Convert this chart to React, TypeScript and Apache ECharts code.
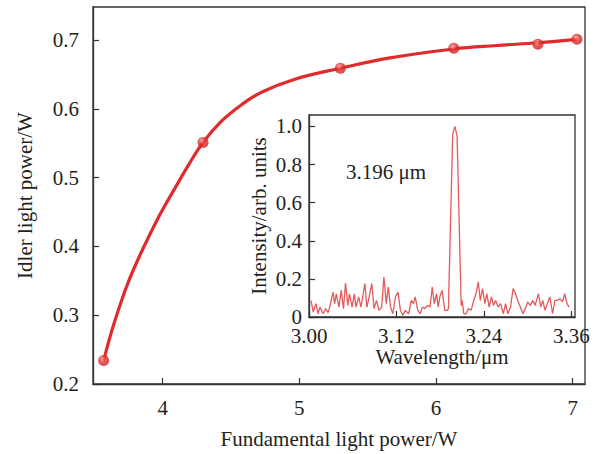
import React, { useEffect, useRef } from "react";
import * as echarts from "echarts";

// Main chart: measured points (fundamental power W, idler power W)
const pointX = [3.568, 4.295, 5.3, 6.13, 6.745, 7.031];
const pointY = [0.234, 0.551, 0.659, 0.688, 0.694, 0.701];

// Fitted curve
const fitX = [3.568, 3.624, 3.685, 3.746, 3.819, 3.905, 3.99, 4.088, 4.185, 4.295, 4.43, 4.577, 4.723, 4.967, 5.3, 5.663, 6.13, 6.445, 6.745, 7.031];
const fitY = [0.234, 0.275, 0.313, 0.347, 0.381, 0.417, 0.45, 0.484, 0.517, 0.551, 0.582, 0.606, 0.624, 0.643, 0.659, 0.674, 0.687, 0.692, 0.696, 0.701];

// Inset spectrum (wavelength µm, intensity a.u.)
const wavelength = [
  3.0027, 3.0059, 3.0095, 3.0126, 3.0149, 3.0194, 3.023, 3.0262, 3.0284, 3.0329,
  3.0352, 3.0374, 3.041, 3.0442, 3.0473, 3.0501, 3.0532, 3.0555, 3.0591, 3.0622,
  3.0645, 3.0681, 3.0713, 3.0767, 3.0794, 3.0825, 3.0862, 3.0893, 3.0925, 3.0961,
  3.0997, 3.1028, 3.106, 3.1087, 3.1119, 3.115, 3.1186, 3.1222, 3.1254, 3.1286,
  3.1322, 3.1367, 3.1403, 3.1434, 3.1457, 3.1493, 3.1525, 3.1556, 3.1592, 3.1628,
  3.166, 3.1691, 3.1719, 3.175, 3.1773, 3.1795, 3.1827, 3.1863, 3.1899, 3.1913,
  3.1972, 3.2002, 3.2032, 3.2088, 3.21, 3.2124, 3.2156, 3.2188, 3.2224, 3.226,
  3.2291, 3.2323, 3.235, 3.2382, 3.2413, 3.244, 3.2472, 3.2504, 3.2531, 3.2562,
  3.2594, 3.263, 3.2666, 3.2697, 3.2729, 3.2765, 3.2801, 3.2833, 3.2864, 3.29,
  3.2936, 3.2968, 3.2999, 3.3036, 3.3072, 3.3103, 3.3148, 3.318, 3.3207, 3.3239,
  3.327, 3.3306, 3.3342, 3.3374, 3.3405, 3.3442, 3.3478, 3.3509, 3.3541, 3.3568,
];
const intensity = [
  0.087, 0.026, 0.07, 0.017, 0.052, 0.017, 0.044, 0.023, 0.052, 0.131,
  0.07, 0.122, 0.052, 0.14, 0.044, 0.178, 0.061, 0.122, 0.052, 0.122,
  0.052, 0.105, 0.052, 0.175, 0.052, 0.105, 0.175, 0.044, 0.087, 0.035,
  0.052, 0.21, 0.07, 0.157, 0.052, 0.017, 0.105, 0.131, 0.035, 0.009,
  0.035, 0.017, 0.087, 0.07, 0.105, 0.035, 0.017, 0.052, 0.044, 0.061,
  0.052, 0.157, 0.07, 0.122, 0.052, 0.105, 0.14, 0.035, 0.035, 0.044,
  0.96, 1.0, 0.95, 0.06, 0.087, 0.017, 0.017, 0.044, 0.035, 0.087,
  0.122, 0.184, 0.087, 0.149, 0.07, 0.122, 0.052, 0.105, 0.061, 0.087,
  0.052, 0.07, 0.017, 0.07, 0.017, 0.052, 0.149, 0.122, 0.087, 0.052,
  0.017, 0.044, 0.079, 0.061, 0.087, 0.061, 0.122, 0.052, 0.087, 0.035,
  0.07, 0.105, 0.017, 0.087, 0.087, 0.096, 0.079, 0.122, 0.07, 0.052,
];

const xTitle = "Fundamental light power/W";
const yTitle = "Idler light power/W";
const insetXTitle = "Wavelength/μm";
const insetYTitle = "Intensity/arb. units";
const peakLabel = "3.196 μm";

const FONT = "'Liberation Serif', 'Times New Roman', serif";
const TXT = "#231f20";
const AX = "#333";

export default function App() {
  const ref = useRef<HTMLDivElement>(null);
  useEffect(() => {
    if (!ref.current) return;
    const chart = echarts.init(ref.current, undefined, { renderer: "svg" });
    const axisCommon = {
      axisLine: { show: true, lineStyle: { color: AX, width: 1.3 } },
      axisTick: { show: true, inside: true, length: 6, lineStyle: { color: AX, width: 1.2 } },
      splitLine: { show: false },
      nameTextStyle: { fontFamily: FONT, fontSize: 21, color: TXT },
    };
    const labelCommon = { fontFamily: FONT, fontSize: 21, color: TXT };
    chart.setOption({
      animation: false,
      backgroundColor: "#fff",
      grid: [
        { left: 93, top: 7, width: 492, height: 378, show: true, borderColor: AX, borderWidth: 1.3, backgroundColor: "transparent" },
        { left: 309, top: 115, width: 266, height: 202, show: true, borderColor: AX, borderWidth: 1.3, backgroundColor: "#fff" },
      ],
      xAxis: [
        {
          ...axisCommon,
          type: "value",
          gridIndex: 0,
          min: 3.49,
          max: 7.09,
          splitNumber: 4,
          name: xTitle,
          nameLocation: "middle",
          nameGap: 44,
          axisLabel: { ...labelCommon, margin: 13, showMinLabel: false, showMaxLabel: false, formatter: (v: number) => String(Math.round(v)) },
        },
        {
          ...axisCommon,
          type: "value",
          gridIndex: 1,
          min: 3.0,
          max: 3.365,
          interval: 0.12,
          name: insetXTitle,
          nameLocation: "middle",
          nameGap: 28,
          axisLabel: { ...labelCommon, lineHeight: 17, margin: 10, showMaxLabel: false, formatter: (v: number) => v.toFixed(2) },
        },
      ],
      yAxis: [
        {
          ...axisCommon,
          type: "value",
          gridIndex: 0,
          min: 0.2,
          max: 0.748,
          splitNumber: 5,
          name: yTitle,
          nameLocation: "middle",
          nameGap: 58,
          axisLabel: { ...labelCommon, margin: 14, showMaxLabel: false, formatter: (v: number) => v.toFixed(1) },
        },
        {
          ...axisCommon,
          type: "value",
          gridIndex: 1,
          min: 0,
          max: 1.06,
          interval: 0.2,
          name: insetYTitle,
          nameLocation: "middle",
          nameGap: 40,
          axisLabel: { ...labelCommon, lineHeight: 17, margin: 7, showMaxLabel: false, formatter: (v: number) => (v === 0 ? "0" : v.toFixed(1)) },
        },
      ],
      series: [
        {
          type: "line",
          xAxisIndex: 0,
          yAxisIndex: 0,
          data: fitX.map((x, i) => [x, fitY[i]]),
          smooth: 0.4,
          showSymbol: false,
          lineStyle: { color: "#e02a2c", width: 3.2 },
          z: 2,
        },
        {
          type: "scatter",
          xAxisIndex: 0,
          yAxisIndex: 0,
          data: pointX.map((x, i) => [x, pointY[i]]),
          symbol: "circle",
          symbolSize: 11,
          itemStyle: {
            color: new echarts.graphic.RadialGradient(0.4, 0.35, 0.7, [
              { offset: 0, color: "#f59a9a" },
              { offset: 0.45, color: "#e2302f" },
              { offset: 1, color: "#c81e1e" },
            ]),
          },
          z: 3,
        },
        {
          type: "line",
          xAxisIndex: 1,
          yAxisIndex: 1,
          data: wavelength.map((x, i) => [x, intensity[i]]),
          showSymbol: false,
          lineStyle: { color: "#e55a5c", width: 1.3 },
          z: 4,
        },
      ],
      graphic: [
        {
          type: "text",
          left: 346,
          top: 161,
          style: { text: peakLabel, font: `21px ${FONT}`, fill: TXT },
          z: 10,
        },
      ],
    });
    return () => chart.dispose();
  }, []);
  return <div ref={ref} style={{ position: "fixed", left: 0, top: 0, width: 596, height: 454 }} />;
}
